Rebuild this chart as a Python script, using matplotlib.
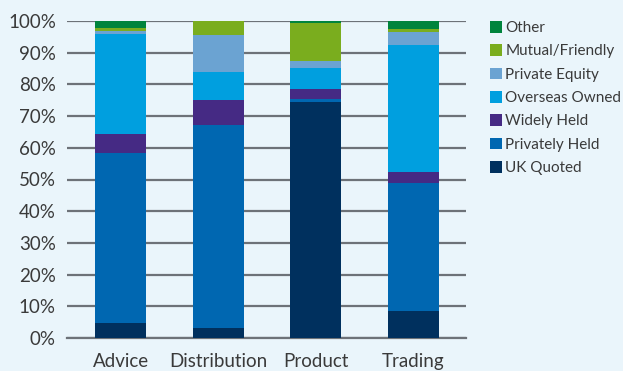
import matplotlib.pyplot as plt
import numpy as np

plt.rcParams['font.family'] = ['Lato', 'DejaVu Sans']

sectors = ['Advice', 'Distribution', 'Product', 'Trading']

# ownership share (%) by sector, bottom to top
uk_quoted = [4.7, 3.2, 74.5, 8.5]
privately_held = [53.7, 64.0, 0.9, 40.4]
widely_held = [6.0, 8.0, 3.1, 3.5]
overseas_owned = [31.6, 8.8, 6.8, 40.1]
private_equity = [0.8, 11.6, 2.1, 4.1]
mutual_friendly = [1.0, 4.4, 12.1, 0.9]
other = [2.2, 0.0, 0.5, 2.5]

series = [
    ('UK Quoted', uk_quoted, '#00305e'),
    ('Privately Held', privately_held, '#0067b1'),
    ('Widely Held', widely_held, '#452a84'),
    ('Overseas Owned', overseas_owned, '#009fdf'),
    ('Private Equity', private_equity, '#6ba3d2'),
    ('Mutual/Friendly', mutual_friendly, '#7aad1e'),
    ('Other', other, '#00843d'),
]

bg = '#eaf5fb'
txt = '#3a3a3a'

fig = plt.figure(figsize=(6.23, 3.71), dpi=100, facecolor=bg)
ax = fig.add_axes([67 / 623, 33 / 371, 399 / 623, 317 / 371], facecolor=bg)

x = np.arange(len(sectors))
bottom = np.zeros(len(sectors))
handles = []
for name, vals, col in series:
    b = ax.bar(x, vals, width=0.52, bottom=bottom, color=col, label=name, zorder=3)
    bottom += np.array(vals)
    handles.append(b)

ax.set_ylim(0, 100)
ax.set_xlim(-0.55, 3.54)
ax.set_yticks(np.arange(0, 101, 10))
ax.set_yticklabels([f'{v}%' for v in range(0, 101, 10)])
ax.set_xticks(x)
ax.set_xticklabels(sectors)
ax.yaxis.grid(True, color='#6d7278', linewidth=1.6, zorder=0)
ax.tick_params(axis='both', length=0, labelsize=13.5, colors=txt)
ax.tick_params(axis='y', pad=8)
ax.tick_params(axis='x', pad=11)
for s in ['top', 'right', 'left']:
    ax.spines[s].set_visible(False)
ax.spines['bottom'].set_color('#6d7278')
ax.spines['bottom'].set_linewidth(1.6)

leg = fig.legend(handles[::-1], [s[0] for s in series][::-1],
                 loc='upper left', bbox_to_anchor=(490 / 623, 1 - 21 / 371),
                 frameon=False, fontsize=11, handlelength=0.8, handleheight=0.8,
                 handletextpad=0.2, labelspacing=0.6, borderaxespad=0,
                 borderpad=0)
for t in leg.get_texts():
    t.set_color(txt)

fig.savefig('out.png', dpi=100, facecolor=bg)
